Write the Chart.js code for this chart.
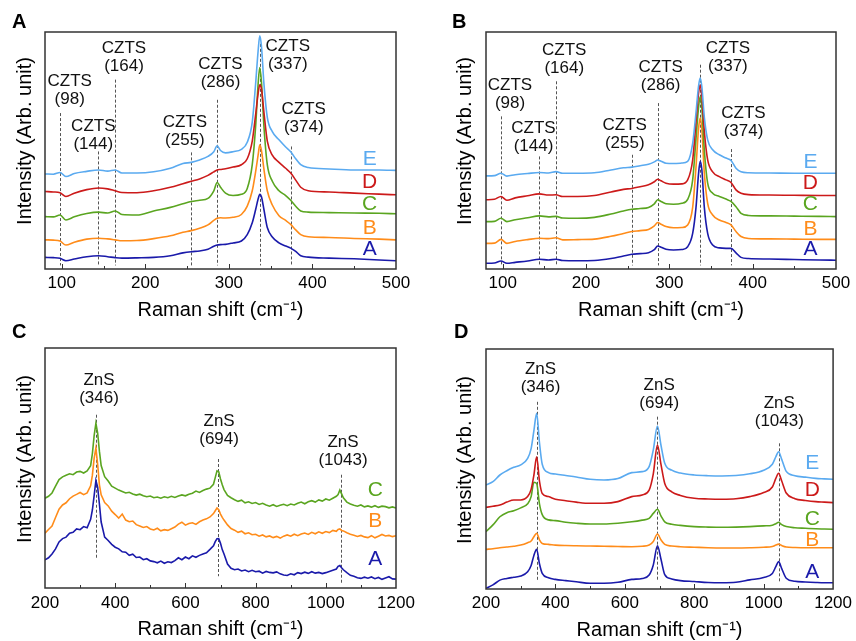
<!DOCTYPE html>
<html>
<head>
<meta charset="utf-8">
<script src="https://cdn.jsdelivr.net/npm/chart.js@4.4.1/dist/chart.umd.min.js"></script>
<style>
body { margin: 0; background: #fff; }
.panel { position: absolute; }
</style>
</head>
<body>
<div class="panel" style="left:0;top:0"><canvas id="chartA" width="428" height="320"></canvas></div>
<div class="panel" style="left:428px;top:0"><canvas id="chartB" width="428" height="320"></canvas></div>
<div class="panel" style="left:0;top:320px"><canvas id="chartC" width="428" height="321"></canvas></div>
<div class="panel" style="left:428px;top:320px"><canvas id="chartD" width="428" height="321"></canvas></div>
<script>
// raman shift sample points (cm-1)
const shiftAB = [80, 90, 98, 105, 115, 130, 144, 155, 164, 172, 190, 210, 230, 245, 255, 265, 275, 282, 286, 290, 296, 305, 315, 322, 328, 332, 335, 337, 339, 342, 346, 352, 360, 368, 374, 380, 386, 395, 420, 450, 480, 500];
const shiftC = [200, 210, 220, 230, 240, 250, 260, 270, 280, 290, 300, 310, 320, 330, 335, 340, 345, 350, 355, 360,
    370, 380, 390, 400, 410, 420, 430, 440, 450, 460, 470, 480, 490, 500, 510, 520, 530, 540, 550, 560, 570, 580, 590, 600, 610, 620, 630, 640, 650, 660, 670, 680,
    685, 690, 695, 700, 705, 710,
    720, 730, 740, 750, 760, 770, 780, 790, 800, 810, 820, 830, 840, 850, 860, 870, 880, 890, 900, 910, 920, 930, 940, 950, 960, 970, 980, 990, 1000, 1010, 1020, 1030,
    1035, 1040, 1045, 1050,
    1060, 1070, 1080, 1090, 1100, 1110, 1120, 1130, 1140, 1150, 1160, 1170, 1180, 1190, 1200];
const shiftD = [200, 220, 240, 260, 280, 300, 320, 330, 338, 346, 354, 362, 380, 400, 430, 460, 500, 540, 580, 620, 650, 670, 682, 694, 704, 715, 735, 760, 800, 840, 880, 920, 960, 1000, 1025, 1035, 1043, 1052, 1065, 1090, 1120, 1150, 1175, 1200];

// panel A (offset intensity, arb. unit)
const panA_A = [4.9, 4.8, 4.5, 3.5, 4.2, 5.2, 5.6, 5.2, 4.8, 4.6, 4.7, 4.9, 5.6, 6.8, 7.3, 7.6, 8.3, 9.6, 10.1, 10.3, 10.4, 11.0, 11.8, 14.5, 19.5, 25, 29.5, 31.5, 30.5, 25, 17.5, 13.5, 11.0, 9.7, 8.8, 7.4, 5.6, 5.0, 4.6, 4.3, 3.8, 3.5];
const panA_B = [12.3, 12.2, 11.8, 10.1, 11.3, 12.6, 13.0, 12.7, 12.3, 11.9, 12.0, 12.8, 14.0, 15.5, 16.2, 17.2, 18.6, 20.5, 21.4, 21.6, 21.5, 21.8, 23, 26.5, 33, 41, 48, 52.4, 50, 42, 33, 27, 22.5, 20.5, 18.8, 16.5, 14.5, 13.6, 13.3, 12.9, 12.6, 12.3];
const panA_C = [22.1, 22.0, 22.8, 20.7, 22.0, 23.4, 24.0, 23.6, 24.5, 23.0, 22.8, 24.5, 26.0, 27.5, 28.5, 29.0, 29.8, 33.0, 36.5, 34.5, 32.0, 31.0, 31.5, 34, 44, 60, 78, 85, 79, 60, 44, 37, 33, 31, 29, 26.5, 24.5, 24.0, 23.8, 23.6, 23.5, 23.3];
const panA_D = [32.7, 32.5, 32.2, 30.6, 32.0, 33.5, 34.2, 33.8, 33.0, 32.3, 32.2, 33.0, 34.5, 36.0, 37.0, 38.0, 39.5, 41.0, 41.8, 42.0, 42.3, 43.0, 44.0, 46.5, 54, 65, 74, 77.7, 76, 66, 54, 48, 45, 42.5, 40.5, 37.5, 34.5, 33.0, 32.5, 32.0, 31.6, 31.3];
const panA_E = [40.1, 40.0, 40.7, 39.0, 40.3, 41.2, 41.8, 41.3, 41.8, 40.5, 40.5, 41.0, 42.5, 44.5, 45.0, 46.0, 47.5, 49.5, 52.0, 50.0, 49.0, 49.5, 50.5, 53.5, 62, 78, 92, 98.4, 94, 78, 64, 58, 54.5, 51.5, 49.5, 46.5, 44.0, 42.8, 42.2, 41.8, 41.8, 41.6];

// panel B
const panB_A = [2.4, 2.5, 3.4, 2.4, 2.8, 3.4, 4.1, 3.8, 4.1, 3.6, 3.5, 3.6, 4.4, 5.5, 6.2, 6.5, 6.9, 8.2, 9.7, 9.2, 8.3, 8.0, 8.2, 9.4, 15, 26, 40, 45.4, 42, 26, 15, 10.1, 8.9, 8.7, 8.7, 6.8, 4.9, 4.4, 4.2, 4.0, 3.8, 3.7];
const panB_B = [10.8, 10.9, 12.5, 10.8, 11.6, 12.4, 13.0, 12.8, 13.2, 12.3, 12.4, 12.6, 13.8, 15.0, 15.8, 16.2, 16.7, 18.2, 19.6, 18.9, 17.9, 17.4, 17.5, 18.6, 26, 43, 59, 63.7, 59, 40.4, 27.7, 22.8, 20.7, 19.6, 18.6, 15.8, 13.7, 12.9, 12.7, 12.6, 12.5, 12.5];
const panB_C = [20.0, 20.1, 21.4, 20.0, 20.8, 21.6, 22.4, 22.0, 22.2, 21.5, 21.4, 21.8, 23.2, 24.5, 25.2, 25.5, 26.0, 27.5, 29.2, 28.5, 27.5, 27.3, 27.7, 29.4, 37.6, 55, 68, 72.8, 68, 50, 36.2, 32.0, 30.6, 29.5, 28.5, 26.3, 23.5, 22.6, 22.4, 22.3, 22.2, 22.1];
const panB_D = [29.2, 29.4, 30.6, 29.0, 30.0, 30.9, 31.7, 31.2, 31.3, 30.6, 30.6, 31.0, 32.5, 33.6, 34.0, 34.7, 35.5, 36.8, 37.9, 37.2, 36.2, 35.8, 35.9, 37.6, 46, 62, 74, 77.7, 73, 58, 46, 41, 39, 37.6, 36.5, 33.4, 32.0, 31.4, 31.2, 31.1, 31.0, 31.0];
const panB_E = [39.3, 39.4, 40.4, 39.2, 39.8, 40.3, 40.7, 40.5, 41.1, 40.4, 40.4, 40.6, 41.8, 42.7, 43.0, 43.6, 44.2, 45.2, 46.0, 45.5, 44.6, 44.5, 44.7, 45.4, 53, 66, 77, 80.6, 77, 64, 54.5, 50.3, 48.2, 46.8, 45.8, 42.5, 41.0, 40.6, 40.5, 40.4, 40.4, 40.4];

// panel C (noisy spectra)
const panC_A = [11.7, 12.6, 14.2, 16.3, 19.2, 20.6, 21.2, 22.8, 23.2, 24.6, 24.3, 25.6, 25.1, 28.6, 32.5, 38.5, 44.8, 42.0, 35.0, 27.5,
    21.2, 19.8, 18.2, 17.0, 16.3, 15.1, 14.9, 13.6, 14.1, 12.7, 12.9, 11.8, 12.2, 11.3, 11.0, 10.5, 11.2, 10.3, 10.9, 10.6, 11.4, 12.6, 11.8, 12.9, 12.2, 13.4, 12.8, 13.6, 14.2, 14.7, 16.1, 17.6,
    19.3, 20.5, 20.6, 18.6, 16.0, 14.2,
    10.0, 8.2, 7.6, 7.9, 7.1, 7.5, 6.8, 7.4, 6.8, 7.0, 6.2, 6.9, 6.5, 6.3, 6.7, 5.9, 5.4, 5.2, 5.9, 5.5, 6.4, 6.0, 6.6, 6.1, 6.8, 6.2, 6.5, 6.0, 6.4, 6.9, 7.4, 7.9,
    9.0, 9.4, 8.4, 7.6,
    6.4, 5.3, 4.9, 4.3, 4.0, 4.5, 4.1, 4.6, 3.9, 4.4, 3.6, 4.2, 4.7, 3.8, 3.7];
const panC_B = [22.8, 24.4, 25.8, 29.4, 32.8, 34.6, 35.5, 37.2, 38.3, 39.0, 39.8, 38.9, 39.6, 42.6, 47.0, 54.0, 58.3, 51.5, 43.0, 38.8,
    35.6, 34.2, 32.0, 30.6, 29.1, 30.8, 28.3, 27.6, 27.9, 26.4, 25.8, 25.2, 25.6, 24.6, 24.2, 24.9, 23.8, 24.3, 24.0, 24.7, 25.4, 26.6, 27.4, 26.2, 26.9, 27.2, 26.5, 27.6, 28.3, 28.8, 29.6, 31.0,
    32.2, 33.3, 32.6, 30.8, 29.4, 28.3,
    26.3, 24.8, 24.1, 23.2, 23.7, 22.6, 23.0, 22.2, 22.4, 21.6, 22.1, 21.3, 21.7, 21.0, 21.5, 20.8, 21.6, 22.1, 21.6, 22.4, 21.8, 22.5, 22.9, 22.3, 23.2, 22.6, 23.4, 22.8, 23.5, 23.1, 24.0, 23.6,
    24.4, 24.6, 24.0, 23.8,
    23.0, 22.4, 22.0, 21.5, 21.9, 21.3, 21.0, 21.8, 20.9, 21.6, 22.3, 21.7, 21.9, 21.4, 21.8];
const panC_C = [37.4, 38.2, 39.6, 42.4, 45.2, 46.3, 47.0, 47.6, 47.2, 48.3, 48.6, 47.9, 48.8, 51.0, 56.0, 63.5, 68.6, 64.5, 57.0, 51.0,
    46.4, 44.6, 42.4, 41.6, 40.8, 40.2, 39.6, 39.9, 39.2, 38.7, 39.1, 38.4, 38.0, 38.3, 37.6, 37.9, 37.4, 38.0, 37.6, 38.2, 37.7, 38.3, 38.8, 38.4, 39.1, 39.5, 40.4, 39.8, 40.6, 41.2, 41.6, 43.2,
    46.0, 48.8, 48.4, 45.4, 43.0, 41.0,
    38.6, 37.6, 36.8, 36.1, 36.6, 35.5, 35.9, 35.2, 35.6, 34.8, 35.3, 34.6, 34.1, 34.7, 34.0, 34.5, 34.9, 34.3, 35.0, 34.6, 35.3, 35.8, 35.1, 35.9, 36.4, 35.8, 36.7, 36.2, 37.1, 36.6, 37.4, 38.2,
    38.9, 40.8, 39.2, 37.6,
    35.8, 35.0, 34.5, 34.1, 34.6, 33.8, 34.2, 33.7, 34.3, 33.6, 34.1, 33.9, 33.4, 33.8, 33.3];

// panel D
const panD_A = [0.3, 1.7, 3.7, 4.4, 4.9, 5.4, 7.2, 9.8, 14.0, 16.5, 10.5, 6.5, 4.7, 4.0, 3.5, 3.0, 2.4, 2.4, 2.8, 4.0, 4.4, 5.8, 10.0, 18.0, 12.5, 6.0, 4.2, 3.5, 3.1, 2.7, 2.6, 2.8, 3.8, 4.8, 6.5, 9.3, 11.4, 8.5, 4.5, 3.2, 2.9, 2.7, 2.6, 2.6];
const panD_B = [16.5, 16.8, 17.2, 17.5, 17.8, 18.3, 19.3, 20.0, 21.8, 23.2, 20.5, 19.0, 18.6, 18.3, 18.1, 18.0, 17.9, 17.8, 17.7, 17.6, 17.8, 18.3, 19.8, 22.9, 20.5, 18.6, 17.9, 17.6, 17.4, 17.2, 17.1, 17.1, 17.2, 17.4, 17.7, 18.3, 18.7, 18.1, 17.5, 17.3, 17.2, 17.2, 17.2, 17.2];
const panD_C = [23.9, 26.7, 30.1, 31.8, 32.6, 33.8, 35.5, 38.5, 44.5, 44.0, 35.5, 31.0, 28.8, 28.5, 27.8, 27.4, 27.1, 27.1, 27.4, 28.0, 28.7, 29.4, 31.5, 33.2, 30.5, 28.0, 27.0, 26.5, 26.0, 25.8, 25.7, 25.8, 26.0, 26.3, 26.6, 27.2, 27.8, 26.8, 26.0, 25.5, 25.3, 25.1, 25.0, 24.9];
const panD_D = [34.0, 34.5, 35.0, 36.2, 37.1, 37.1, 38.5, 41.5, 47.5, 55.1, 45.0, 39.8, 38.5, 37.4, 36.8, 36.2, 35.7, 35.7, 36.4, 38.5, 39.2, 41.2, 48.0, 60.0, 52.0, 44.0, 40.5, 39.0, 37.8, 37.5, 37.4, 37.6, 38.5, 40.2, 42.5, 46.1, 48.2, 45.0, 40.0, 37.6, 36.9, 36.4, 36.2, 36.0];
const panD_E = [43.3, 44.7, 47.5, 49.3, 50.7, 51.7, 54.4, 58.5, 66.0, 73.2, 61.0, 52.0, 48.5, 47.9, 47.3, 46.7, 45.7, 45.4, 46.0, 48.5, 48.9, 51.0, 58.0, 67.9, 60.0, 52.4, 49.5, 48.3, 47.5, 47.2, 47.1, 47.3, 48.0, 49.5, 52.0, 55.1, 57.2, 54.0, 49.0, 47.2, 46.6, 46.1, 45.9, 45.7];

// peak assignments and tick labels
const cztsPeaks = [98, 144, 164, 255, 286, 337, 374];
const znsPeaks = [346, 694, 1043];
const ticksAB = [100, 200, 300, 400, 500];
const ticksCD = [200, 400, 600, 800, 1000, 1200];
const sampleNames = ['A', 'B', 'C', 'D', 'E'];
const sampleColors = ['#1a1aaa', '#ff8c1a', '#5aa520', '#cc1a1a', '#5aaaf0'];

const panelCfg = {};

const decor = {
    id: 'decor',
    beforeDatasetsDraw(chart) {
        const o = panelCfg[chart.canvas.id];
        const {ctx, chartArea: ca, scales: {x, y}} = chart;
        ctx.save();
        ctx.beginPath();
        ctx.rect(ca.left, ca.top, ca.width, ca.height);
        ctx.clip();
        ctx.strokeStyle = '#555';
        ctx.lineWidth = 1;
        ctx.setLineDash([3, 2]);
        o.peaks.forEach((p, i) => {
            const px = Math.round(x.getPixelForValue(p)) + 0.5;
            ctx.beginPath();
            ctx.moveTo(px, y.getPixelForValue(o.lineTop[i]));
            ctx.lineTo(px, y.getPixelForValue(o.lineBottom[i]));
            ctx.stroke();
        });
        ctx.restore();
    },
    afterDraw(chart) {
        const o = panelCfg[chart.canvas.id];
        const {ctx, chartArea: ca, scales: {x, y}} = chart;
        ctx.save();
        // frame
        ctx.strokeStyle = '#333';
        ctx.lineWidth = 1.5;
        ctx.strokeRect(ca.left, ca.top, ca.width, ca.height);
        // inward ticks
        ctx.lineWidth = 1;
        const step = o.ticks[1] - o.ticks[0];
        for (let v = o.ticks[0] - step / 2; v <= o.xmax; v += step / 2) {
            if (v <= o.xmin || v >= o.xmax) continue;
            const px = Math.round(x.getPixelForValue(v)) + 0.5;
            const major = o.ticks.includes(v);
            ctx.beginPath();
            ctx.moveTo(px, ca.bottom);
            ctx.lineTo(px, ca.bottom - (major ? 5 : 3));
            ctx.stroke();
        }
        // y axis title, sits a bit above the centre like the original
        ctx.fillStyle = '#000';
        ctx.font = '20px Arial, "Liberation Sans", sans-serif';
        ctx.textAlign = 'center';
        ctx.textBaseline = 'middle';
        ctx.save();
        ctx.translate(o.yTitle[0], o.yTitle[1]);
        ctx.rotate(-Math.PI / 2);
        ctx.fillText('Intensity (Arb. unit)', 0, 0);
        ctx.restore();
        // peak labels
        ctx.fillStyle = '#111';
        ctx.font = '17px Arial, "Liberation Sans", sans-serif';
        o.peaks.forEach((p, i) => {
            const lx = x.getPixelForValue(o.labelX[i]);
            const ly = y.getPixelForValue(o.labelY[i]);
            ctx.fillText(o.tag, lx, ly);
            ctx.fillText('(' + p + ')', lx, ly + 18);
        });
        // sample letters
        ctx.font = '21px Arial, "Liberation Sans", sans-serif';
        o.letterY.forEach((v, i) => {
            ctx.fillStyle = sampleColors[i];
            ctx.fillText(sampleNames[i], x.getPixelForValue(o.letterX[i]), y.getPixelForValue(v));
        });
        // panel letter
        ctx.fillStyle = '#000';
        ctx.font = 'bold 20px Arial, "Liberation Sans", sans-serif';
        ctx.textAlign = 'left';
        ctx.fillText(o.letter, o.letterPos[0], o.letterPos[1]);
        ctx.restore();
    }
};

function makePanel(id, cfg) {
    panelCfg[id] = cfg;
    const datasets = cfg.series.map((vals, i) => ({
        label: sampleNames[i],
        data: cfg.xs.map((x, j) => ({x: x, y: vals[j]})),
        borderColor: sampleColors[i],
        borderWidth: 1.6,
        pointRadius: 0,
        cubicInterpolationMode: cfg.smooth ? 'monotone' : 'default',
        tension: 0,
        order: 5 - i,
        fill: false
    }));
    return new Chart(document.getElementById(id), {
        type: 'line',
        data: {datasets: datasets},
        options: {
            responsive: false,
            animation: false,
            layout: {padding: {top: cfg.box.top, right: cfg.box.right, left: 0, bottom: 0}},
            plugins: {legend: {display: false}, tooltip: {enabled: false}},
            scales: {
                x: {
                    type: 'linear', min: cfg.xmin, max: cfg.xmax,
                    afterBuildTicks: s => { s.ticks = cfg.ticks.map(v => ({value: v})); },
                    afterFit: s => { s.height = cfg.box.xh; },
                    grid: {display: false, drawTicks: false},
                    border: {display: false},
                    ticks: {padding: cfg.box.tickPad, color: '#000', font: {size: 17}, maxRotation: 0, autoSkip: false,
                        callback: v => String(v)},
                    title: {display: true, text: 'Raman shift (cm\u207B\u00B9)', color: '#000',
                        font: {size: 20, lineHeight: 1}, padding: {top: 0, bottom: cfg.box.xtPad}}
                },
                y: {
                    min: 0, max: 100,
                    afterFit: s => { s.width = cfg.box.left; },
                    grid: {display: false, drawTicks: false},
                    border: {display: false},
                    ticks: {display: false}
                }
            }
        },
        plugins: [decor]
    });
}

Chart.defaults.font.family = 'Arial, "Liberation Sans", sans-serif';

makePanel('chartA', {
    xs: shiftAB, series: [panA_A, panA_B, panA_C, panA_D, panA_E], smooth: true,
    xmin: 80, xmax: 500, ticks: ticksAB,
    box: {left: 45, right: 32, top: 32, xh: 51, tickPad: 4, xtPad: 0},
    yTitle: [25, 141],
    peaks: cztsPeaks, tag: 'CZTS',
    lineTop: [65.8, 49.6, 79.9, 49.2, 71.4, 95, 51.7],
    lineBottom: [1.5, 1.5, 1.5, 1.5, 1.5, 1.5, 1.5],
    labelX: [109.6, 137.8, 174.5, 247.4, 290, 370.5, 389.6],
    labelY: [79, 60.4, 93.2, 62, 86.5, 94, 67.2],
    letterX: [468.5, 468.5, 468.5, 468.5, 468.5],
    letterY: [8.3, 17.2, 27.5, 36.5, 46.3],
    letter: 'A', letterPos: [12, 22]
});

makePanel('chartB', {
    xs: shiftAB, series: [panB_A, panB_B, panB_C, panB_D, panB_E], smooth: true,
    xmin: 80, xmax: 500, ticks: ticksAB,
    box: {left: 58, right: 20, top: 32, xh: 51, tickPad: 4, xtPad: 0},
    yTitle: [37, 141],
    peaks: cztsPeaks, tag: 'CZTS',
    lineTop: [64.4, 47.5, 79.2, 48.2, 70, 86.2, 50.6],
    lineBottom: [1.5, 1.5, 1.5, 1.5, 1.5, 1.5, 1.5],
    labelX: [108.8, 137, 173.9, 246.5, 289.6, 370.3, 389],
    labelY: [77.7, 59.4, 92.3, 60.8, 85.2, 93.2, 65.8],
    letterX: [469.3, 469.3, 469.3, 469.3, 469.3],
    letterY: [8.3, 16.8, 27.5, 36.2, 45],
    letter: 'B', letterPos: [24, 22]
});

makePanel('chartC', {
    xs: shiftC, series: [panC_A, panC_B, panC_C], smooth: false,
    xmin: 200, xmax: 1200, ticks: ticksCD,
    box: {left: 45, right: 32, top: 28, xh: 53, tickPad: 5, xtPad: 2},
    yTitle: [25, 139],
    peaks: znsPeaks, tag: 'ZnS',
    lineTop: [72.2, 53.75, 47.2],
    lineBottom: [12.5, 4.9, 1.4],
    labelX: [354, 696, 1049],
    labelY: [86.4, 69.4, 60.8],
    letterX: [1141, 1141, 1141],
    letterY: [12.1, 27.8, 40.7],
    letter: 'C', letterPos: [12, 12]
});

makePanel('chartD', {
    xs: shiftD, series: [panD_A, panD_B, panD_C, panD_D, panD_E], smooth: true,
    xmin: 200, xmax: 1200, ticks: ticksCD,
    box: {left: 58, right: 20, top: 29, xh: 52, tickPad: 4, xtPad: 1},
    yTitle: [37, 140],
    peaks: znsPeaks, tag: 'ZnS',
    lineTop: [78, 71.8, 60.7],
    lineBottom: [3, 3.75, 3],
    labelX: [357, 699, 1045],
    labelY: [91.5, 84.7, 77.4],
    letterX: [1140, 1140, 1140, 1140, 1140],
    letterY: [6.8, 20.4, 29, 41, 52.6],
    letter: 'D', letterPos: [26, 12]
});
</script>
</body>
</html>
